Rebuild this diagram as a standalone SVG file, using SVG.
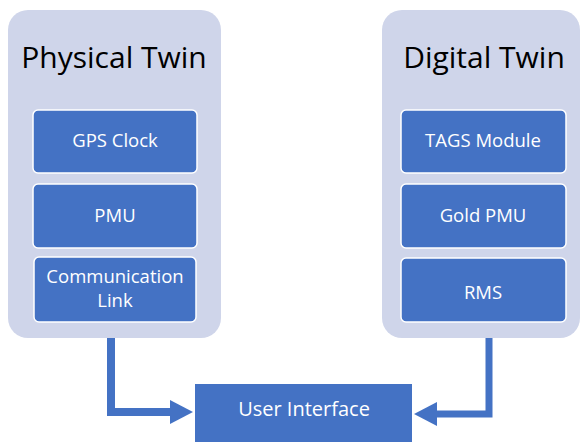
<svg xmlns="http://www.w3.org/2000/svg" width="582" height="442" viewBox="0 0 582 442">
<style>
.container{fill:#CFD5EA;stroke:none}
.box{fill:#4472C4;stroke:#ffffff;stroke-width:1.5}
.title{font-family:"Open Sans","Liberation Sans",sans-serif;font-size:30px;fill:#000000;text-anchor:middle}
.label{font-family:"Open Sans","Liberation Sans",sans-serif;font-size:18.5px;fill:#ffffff;text-anchor:middle}
.conn{fill:none;stroke:#4472C4;stroke-width:8;stroke-linejoin:miter}
.head{fill:#4472C4}
</style>
<rect width="582" height="442" fill="#ffffff"/>
<g id="physical-twin">
<rect class="container" x="8" y="10" width="213" height="328" rx="20"/>
<text class="title" x="114" y="68">Physical Twin</text>
</g>
<g id="gps-clock">
<rect class="box" x="33" y="110" width="164" height="63" rx="5"/>
<text class="label" x="115" y="147">GPS Clock</text>
</g>
<g id="pmu">
<rect class="box" x="33" y="184" width="164" height="64" rx="5"/>
<text class="label" x="115" y="222">PMU</text>
</g>
<g id="communication-link">
<rect class="box" x="34" y="257" width="162" height="65" rx="5"/>
<text class="label" x="115" y="283">Communication</text>
<text class="label" x="115" y="307">Link</text>
</g>
<g id="digital-twin">
<rect class="container" x="382" y="10" width="198" height="328" rx="20"/>
<text class="title" x="484" y="68">Digital Twin</text>
</g>
<g id="tags-module">
<rect class="box" x="401" y="110" width="165" height="63" rx="5"/>
<text class="label" x="483" y="147">TAGS Module</text>
</g>
<g id="gold-pmu">
<rect class="box" x="401" y="184" width="165" height="64" rx="5"/>
<text class="label" x="483" y="222">Gold PMU</text>
</g>
<g id="rms">
<rect class="box" x="401" y="258" width="165" height="64" rx="5"/>
<text class="label" x="483" y="299">RMS</text>
</g>
<g id="user-interface">
<rect x="195" y="384" width="217" height="60" fill="#4472C4"/>
<text class="label" x="304" y="416" style="font-size:20px">User Interface</text>
</g>
<g id="connectors">
<path class="conn" d="M111,338 V412 H172"/>
<polygon class="head" points="170,400 193,412 170,424"/>
<path class="conn" d="M489,338 V414 H436" style="stroke-width:7"/>
<polygon class="head" points="437,402 414,414 437,426"/>
</g>
</svg>
